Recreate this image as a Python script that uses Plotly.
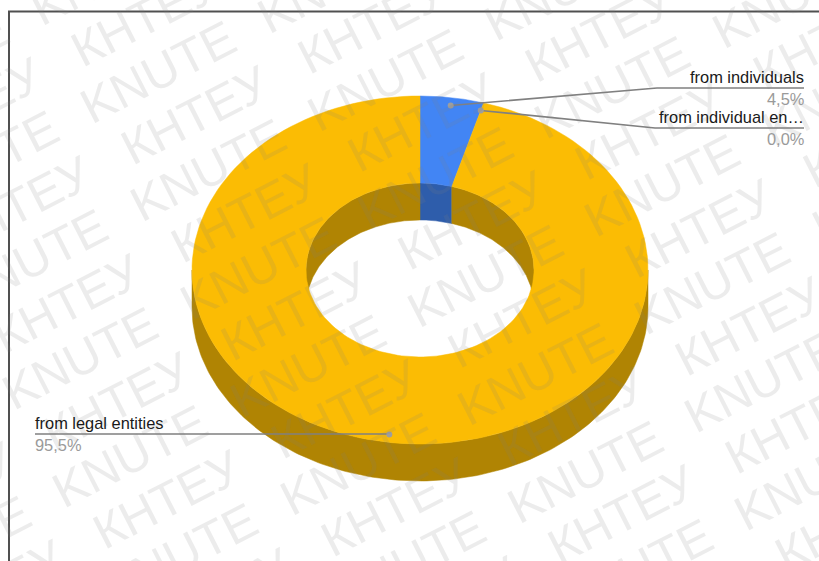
import math
import numpy as np
import plotly.graph_objects as go

# Shares of income by source, percent
categories = ["from individuals", "from individual en…", "from legal entities"]
values = [4.5, 0.0, 95.5]
slice_colors = ["#4285F4", "#EA4335", "#FBBC04"]
wall_colors = ["#2E5DAB", "#A32F25", "#B08403"]

W, H = 819, 561
CX, CY = 420, 270
RX, RY = 228, 174
HOLE = 0.5
DEPTH = 37
DOT_R = 0.955

LEADER_COLOR = "#808080"
DOT_COLOR = "#9E9E9E"
LABEL_FONT = "Liberation Sans"


def project(theta_deg, r=1.0, drop=0.0):
    t = np.radians(theta_deg)
    return CX + RX * r * np.sin(t), CY - RY * r * np.cos(t) + drop


def arc(a, b, n=160):
    return np.linspace(a, b, max(n, 2))


def polygon(xs, ys, color):
    return go.Scatter(
        x=list(xs) + [xs[0]], y=list(ys) + [ys[0]], mode="lines",
        fill="toself", fillcolor=color, line=dict(color=color, width=0.5),
        hoverinfo="skip", showlegend=False,
    )


def wall(a, b, r, color):
    th = arc(a, b)
    x1, y1 = project(th, r)
    x2, y2 = project(th[::-1], r, DEPTH)
    return polygon(np.r_[x1, x2], np.r_[y1, y2], color)


def sector(a, b, color):
    th = arc(a, b)
    x1, y1 = project(th, 1.0)
    x2, y2 = project(th[::-1], HOLE)
    return polygon(np.r_[x1, x2], np.r_[y1, y2], color)


# Slice boundaries, clockwise from twelve o'clock
total = sum(values)
edges = np.cumsum([0.0] + values) / total * 360.0
spans = [(edges[i], edges[i + 1]) for i in range(len(values))]

fig = go.Figure()

# Outer rim: only the front half faces the viewer
for (a, b), c in zip(spans, wall_colors):
    lo, hi = max(a, 90.0), min(b, 270.0)
    if hi > lo:
        fig.add_trace(wall(lo, hi, 1.0, c))

# Inner rim: only the back half of the hole is visible
for (a, b), c in zip(spans, wall_colors):
    for lo, hi in ((max(a, 0.0), min(b, 90.0)), (max(a, 270.0), min(b, 360.0))):
        if hi > lo:
            fig.add_trace(wall(lo, hi, HOLE, c))

# Top face of the ring
for (a, b), c in zip(spans, slice_colors):
    if b > a:
        fig.add_trace(sector(a, b, c))

# Leader lines and their dots, one per slice
label_rows = [
    dict(elbow_x=657, line_y=88, end_x=804, anchor="right"),
    dict(elbow_x=655, line_y=128, end_x=804, anchor="right"),
    dict(elbow_x=389, line_y=434, end_x=35, anchor="left"),
]
annotations = []

# Repeating diagonal watermark
ANGLE = 27.0
tx, ty = math.cos(math.radians(ANGLE)), -math.sin(math.radians(ANGLE))
nx, ny = math.sin(math.radians(ANGLE)), math.cos(math.radians(ANGLE))
WORD_PITCH, ROW_PITCH = 199.0, 55.0
ORIGIN = (83 + 84 * tx, 110 + 84 * ty)
for row in range(-8, 18):
    word = "KNUTE" if row % 2 == 0 else "КНТЕУ"
    shift = 0.0 if row % 2 == 0 else 14.0
    for col in range(-6, 10):
        s = col * WORD_PITCH + shift
        px = ORIGIN[0] + s * tx + row * ROW_PITCH * nx
        py = ORIGIN[1] + s * ty + row * ROW_PITCH * ny
        if -120 < px < W + 120 and -120 < py < H + 120:
            annotations.append(dict(
                x=px / W, y=1 - py / H, xref="paper", yref="paper",
                text=word, showarrow=False, textangle=-ANGLE,
                xanchor="center", yanchor="middle", borderpad=0, borderwidth=0,
                font=dict(family=LABEL_FONT, size=49, color="rgba(128,128,128,0.15)"),
            ))

for (a, b), cat, val, spec in zip(spans, categories, values, label_rows):
    dx, dy = project((a + b) / 2, DOT_R)
    fig.add_trace(go.Scatter(
        x=[dx, spec["elbow_x"], spec["end_x"]], y=[dy, spec["line_y"], spec["line_y"]],
        mode="lines", line=dict(color=LEADER_COLOR, width=1.6),
        hoverinfo="skip", showlegend=False,
    ))
    fig.add_trace(go.Scatter(
        x=[dx], y=[dy], mode="markers", marker=dict(color=DOT_COLOR, size=6),
        hoverinfo="skip", showlegend=False,
    ))
    pct = f"{val / total * 100:.1f}%".replace(".", ",")
    annotations.append(dict(
        x=spec["end_x"], y=spec["line_y"] - 11, xref="x", yref="y", text=cat,
        showarrow=False, xanchor=spec["anchor"], yanchor="middle",
        borderpad=0, borderwidth=0,
        font=dict(family=LABEL_FONT, size=16.4, color="#1A1A1A"),
    ))
    annotations.append(dict(
        x=spec["end_x"], y=spec["line_y"] + 11, xref="x", yref="y", text=pct,
        showarrow=False, xanchor=spec["anchor"], yanchor="middle",
        borderpad=0, borderwidth=0,
        font=dict(family=LABEL_FONT, size=16.4, color="#9A9A9A"),
    ))

# Frame along the top and left edges
shapes = [
    dict(type="line", xref="x", yref="y", x0=8, x1=W, y0=11.5, y1=11.5,
         line=dict(color="#505050", width=2)),
    dict(type="line", xref="x", yref="y", x0=9, x1=9, y0=11.5, y1=H,
         line=dict(color="#505050", width=2)),
]

fig.update_layout(
    width=W, height=H, margin=dict(l=0, r=0, t=0, b=0),
    paper_bgcolor="white", plot_bgcolor="white", showlegend=False,
    xaxis=dict(range=[0, W], visible=False, fixedrange=True),
    yaxis=dict(range=[H, 0], visible=False, fixedrange=True),
    annotations=annotations, shapes=shapes,
)
fig.write_html("out.html", config=dict(displayModeBar=False))
